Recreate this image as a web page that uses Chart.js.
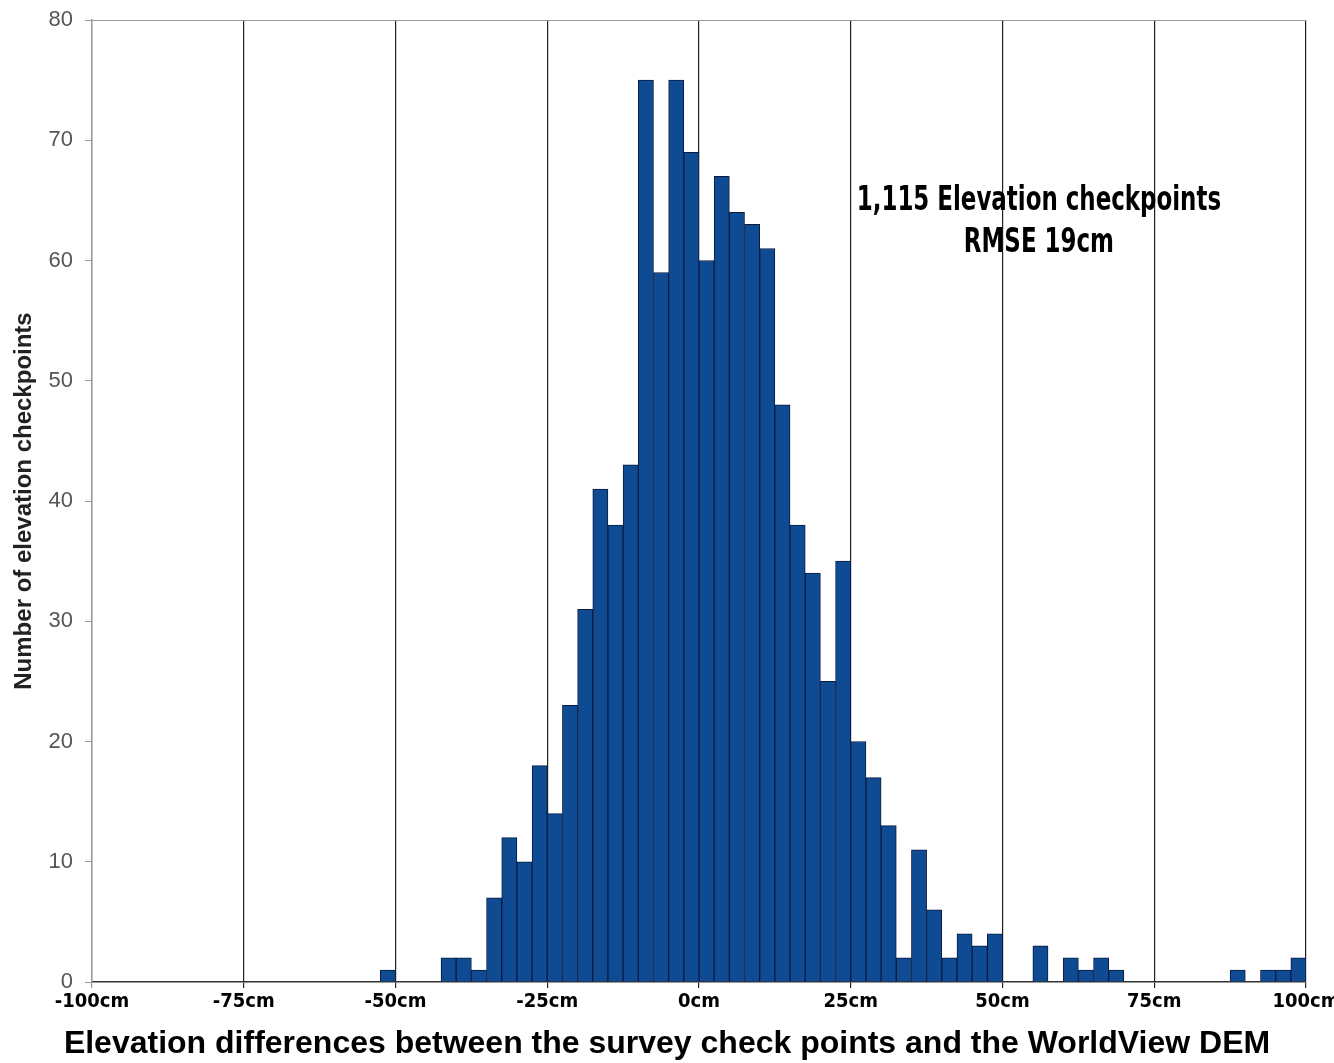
<!DOCTYPE html>
<html>
<head>
<meta charset="utf-8">
<title>Elevation differences histogram</title>
<script src="https://cdn.jsdelivr.net/npm/chart.js@4.4.1/dist/chart.umd.min.js"></script>
<style>
  body { margin: 0; background: #fff; }
  canvas { display: block; }
</style>
</head>
<body>
<canvas id="histChart" width="1334" height="1063"></canvas>
<script>
// Histogram bins (cm), 2.5 cm wide, given by their lower edge
const binWidth = 2.5;
const binStarts = [
  -100, -97.5, -95, -92.5, -90, -87.5, -85, -82.5, -80, -77.5,
  -75, -72.5, -70, -67.5, -65, -62.5, -60, -57.5, -55, -52.5,
  -50, -47.5, -45, -42.5, -40, -37.5, -35, -32.5, -30, -27.5,
  -25, -22.5, -20, -17.5, -15, -12.5, -10, -7.5, -5, -2.5,
  0, 2.5, 5, 7.5, 10, 12.5, 15, 17.5, 20, 22.5,
  25, 27.5, 30, 32.5, 35, 37.5, 40, 42.5, 45, 47.5,
  50, 52.5, 55, 57.5, 60, 62.5, 65, 67.5, 70, 72.5,
  75, 77.5, 80, 82.5, 85, 87.5, 90, 92.5, 95, 97.5
];

// Number of checkpoints per bin
const counts = [
  0, 0, 0, 0, 0, 0, 0, 0, 0, 0,
  0, 0, 0, 0, 0, 0, 0, 0, 0, 1,
  0, 0, 0, 2, 2, 1, 7, 12, 10, 18,
  14, 23, 31, 41, 38, 43, 75, 59, 75, 69,
  60, 67, 64, 63, 61, 48, 38, 34, 25, 35,
  20, 17, 13, 2, 11, 6, 2, 4, 3, 4,
  0, 0, 3, 0, 2, 1, 2, 1, 0, 0,
  0, 0, 0, 0, 0, 1, 0, 1, 1, 2
];

// Axis ticks
const xTicks = [-100, -75, -50, -25, 0, 25, 50, 75, 100];
const yTicks = [0, 10, 20, 30, 40, 50, 60, 70, 80];

// Text in the chart
const noteLines = ['1,115 Elevation checkpoints', 'RMSE 19cm'];
const xTitle = 'Elevation differences between the survey check points and the WorldView DEM';
const yTitle = 'Number of elevation checkpoints';

const narrowFont = '"DejaVu Sans Condensed", "Liberation Sans Narrow", sans-serif';
const sansFont = '"Liberation Sans", Arial, sans-serif';

// Note text, anchored in data coordinates; squeezed sideways to look like Impact
const noteAnchor = { x: 56, y: [64.9, 61.4] };
const notePlugin = {
  id: 'note',
  afterDraw(chart) {
    const ctx = chart.ctx;
    const xs = chart.scales.x, ys = chart.scales.y;
    ctx.save();
    ctx.fillStyle = '#000';
    ctx.font = 'bold 34px ' + narrowFont;
    ctx.textAlign = 'center';
    ctx.textBaseline = 'middle';
    noteLines.forEach((line, i) => {
      ctx.save();
      ctx.translate(xs.getPixelForValue(noteAnchor.x), ys.getPixelForValue(noteAnchor.y[i]));
      ctx.scale(0.75, 1);
      ctx.fillText(line, 0, 0);
      ctx.restore();
    });
    ctx.restore();
  }
};

const points = binStarts.map((s, i) => ({ x: s + binWidth / 2, y: counts[i] }));

new Chart(document.getElementById('histChart'), {
  type: 'bar',
  data: {
    datasets: [{
      data: points,
      backgroundColor: '#0f4b92',
      borderColor: '#0a1b42',
      borderWidth: 1,
      barPercentage: 1,
      categoryPercentage: 1
    }]
  },
  options: {
    responsive: false,
    animation: false,
    devicePixelRatio: 1,
    layout: { padding: { top: 20, right: 28, left: 28, bottom: 0 } },
    plugins: {
      legend: { display: false },
      tooltip: { enabled: false },
      title: {
        display: true,
        position: 'bottom',
        text: xTitle,
        color: '#000',
        font: { family: sansFont, size: 32, weight: 'bold' },
        padding: { top: 6, bottom: 0 }
      }
    },
    scales: {
      x: {
        type: 'linear',
        min: -100,
        max: 100,
        offset: false,
        afterBuildTicks: s => { s.ticks = xTicks.map(v => ({ value: v })); },
        afterFit: s => { s.height = 36.6; s.paddingLeft = 0; s.paddingRight = 0; },
        grid: {
          offset: false,
          color: c => (c.tick && c.tick.value === -100) ? '#9a9a9a' : '#222',
          lineWidth: 1.2,
          tickLength: 6
        },
        border: { color: '#333', width: 1.5 },
        ticks: {
          padding: 2,
          color: '#000',
          maxRotation: 0,
          font: { family: narrowFont, size: 20, weight: 'bold' },
          callback: v => v + 'cm'
        }
      },
      y: {
        min: 0,
        max: 80,
        afterBuildTicks: s => { s.ticks = yTicks.map(v => ({ value: v })); },
        afterFit: s => { s.width = 64; s.paddingTop = 0; s.paddingBottom = 0; },
        grid: {
          color: c => (c.tick && c.tick.value === 80) ? '#9a9a9a' : 'transparent',
          tickColor: '#9a9a9a',
          tickLength: 7
        },
        border: { color: '#9a9a9a', width: 1.5 },
        ticks: {
          padding: 12,
          color: '#555',
          font: { family: sansFont, size: 22 }
        },
        title: {
          display: true,
          text: yTitle,
          color: '#222',
          font: { family: sansFont, size: 24, weight: 'bold' },
          padding: { top: -18, bottom: 0 }
        }
      }
    }
  },
  plugins: [notePlugin]
});
</script>
</body>
</html>
